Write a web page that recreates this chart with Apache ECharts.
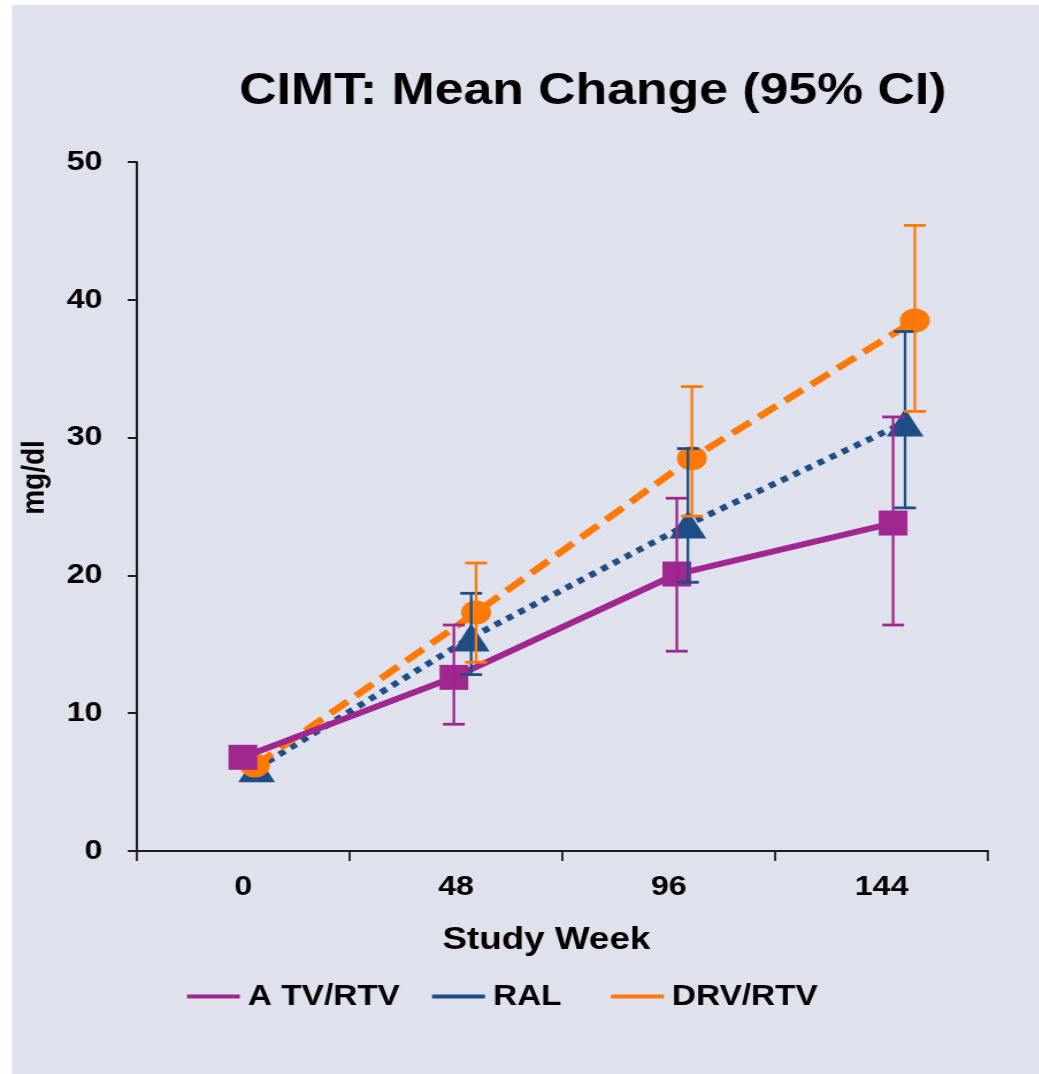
<!DOCTYPE html>
<html>
<head>
<meta charset="utf-8">
<title>CIMT: Mean Change (95% CI)</title>
<script src="https://cdn.jsdelivr.net/npm/echarts@6/dist/echarts.min.js"></script>
<style>
  html, body { margin: 0; padding: 0; background: #ffffff; overflow: hidden; }
  /* the chart is laid out on a narrower canvas and widened horizontally */
  #chart { width: 904px; height: 1074px; transform: scaleX(1.15); transform-origin: 0 0; }
</style>
</head>
<body>
<div id="chart"></div>
<script>
// ---- data ----
const weeks = [0, 48, 96, 144];
const weekLabels = ['0', '48', '96', '144'];
const seriesNames = ['A TV/RTV', 'RAL', 'DRV/RTV'];

const atvMean = [6.8, 12.6, 20.1, 23.8];
const atvLow  = [null, 9.2, 14.5, 16.4];
const atvHigh = [null, 16.4, 25.6, 31.5];

const ralMean = [6.0, 15.5, 23.7, 31.1];
const ralLow  = [null, 12.8, 19.5, 24.9];
const ralHigh = [null, 18.7, 29.2, 37.7];

const drvMean = [6.2, 17.3, 28.5, 38.5];
const drvLow  = [null, 13.7, 24.3, 31.9];
const drvHigh = [null, 20.9, 33.7, 45.4];

const yTicks = { min: 0, max: 50, step: 10 };

// ---- layout / style ----
// small horizontal dodge (in weeks) so overlapping points stay readable
const dodge = {
  'A TV/RTV': [-0.1, -0.5, 1.8, 2.6],
  'RAL':      [3.0, 3.4, 4.3, 5.3],
  'DRV/RTV':  [2.6, 4.5, 5.2, 7.5]
};
const colors = { 'A TV/RTV': '#a0278f', 'RAL': '#1f4e86', 'DRV/RTV': '#ff7906' };
const FONT = '"Liberation Sans", Arial, Helvetica, sans-serif';

function points(name, mean) {
  return weeks.map((w, i) => [w + dodge[name][i], mean[i]]);
}
function bars(name, low, high) {
  const out = [];
  weeks.forEach((w, i) => {
    if (low[i] != null && high[i] != null) out.push([w + dodge[name][i], low[i], high[i]]);
  });
  return out;
}
function errorBarRenderer(color) {
  return function (params, api) {
    const x = api.value(0);
    const lo = api.coord([x, api.value(1)]);
    const hi = api.coord([x, api.value(2)]);
    const half = 9.5;
    const stem = { stroke: color, lineWidth: 2.3 };
    const cap = { stroke: color, lineWidth: 2.8 };
    return {
      type: 'group',
      children: [
        { type: 'line', shape: { x1: lo[0], y1: lo[1], x2: hi[0], y2: hi[1] }, style: stem },
        { type: 'line', shape: { x1: lo[0] - half, y1: lo[1], x2: lo[0] + half, y2: lo[1] }, style: cap },
        { type: 'line', shape: { x1: hi[0] - half, y1: hi[1], x2: hi[0] + half, y2: hi[1] }, style: cap }
      ]
    };
  };
}

const chart = echarts.init(document.getElementById('chart'), null, { renderer: 'canvas' });

const lineSeries = [
  { name: 'A TV/RTV', mean: atvMean, symbol: 'rect', size: 25, line: { width: 6, type: 'solid' }, z: 4 },
  { name: 'RAL', mean: ralMean, symbol: 'triangle', size: [32, 28], line: { width: 6, type: [6, 6] }, z: 2 },
  { name: 'DRV/RTV', mean: drvMean, symbol: 'circle', size: [26, 24], line: { width: 6.5, type: [19, 9] }, z: 3 }
].map(s => ({
  type: 'line',
  name: s.name,
  xAxisIndex: 1,
  yAxisIndex: 0,
  data: points(s.name, s.mean),
  symbol: s.symbol,
  symbolSize: s.size,
  showSymbol: true,
  z: s.z,
  itemStyle: { color: colors[s.name], opacity: 1 },
  lineStyle: { color: colors[s.name], width: s.line.width, type: s.line.type, cap: 'butt' },
  emphasis: { disabled: true }
}));

const barSeries = [
  ['A TV/RTV', atvLow, atvHigh],
  ['RAL', ralLow, ralHigh],
  ['DRV/RTV', drvLow, drvHigh]
].map(([name, lo, hi]) => ({
  type: 'custom',
  name: name + ' CI',
  xAxisIndex: 1,
  yAxisIndex: 0,
  z: 6,
  data: bars(name, lo, hi),
  encode: { x: 0, y: [1, 2] },
  renderItem: errorBarRenderer(colors[name])
}));

const legendText = { fontFamily: FONT, fontSize: 29, fontWeight: 'bold', color: '#000', padding: [0, 0, 0, 2] };
const legendLefts = [162.6, 375.7, 531.3];

chart.setOption({
  animation: false,
  backgroundColor: '#ffffff',
  graphic: [{
    type: 'rect', left: 10.4, top: 5, z: -10,
    shape: { width: 904, height: 1074 },
    style: { fill: '#dfe1ec' }
  }],
  title: {
    text: 'CIMT: Mean Change (95% CI)',
    left: 208, top: 69.5, padding: 0,
    textStyle: { fontFamily: FONT, fontSize: 45, fontWeight: 'bold', color: '#000' }
  },
  legend: seriesNames.map((n, i) => ({
    data: [n],
    left: legendLefts[i],
    top: 982,
    padding: 0,
    icon: 'rect',
    itemWidth: 46,
    itemHeight: 4,
    selectedMode: false,
    textStyle: legendText
  })),
  grid: { left: 119.1, right: 44.9, top: 162, bottom: 223, containLabel: false },
  xAxis: [
    {
      type: 'category',
      data: weekLabels,
      boundaryGap: true,
      name: 'Study Week',
      nameLocation: 'middle',
      nameGap: 73,
      nameTextStyle: { fontFamily: FONT, fontSize: 32, fontWeight: 'bold', color: '#000', padding: [0, 28, 0, 0] },
      axisLine: { onZero: false, lineStyle: { color: '#1c1c1c', width: 2 } },
      axisTick: { show: true, length: 10, alignWithLabel: false, lineStyle: { color: '#1c1c1c', width: 1.8 } },
      axisLabel: { margin: 22, fontFamily: FONT, fontSize: 28, fontWeight: 'bold', color: '#000' },
      splitLine: { show: false }
    },
    {
      type: 'value',
      show: false,
      min: -24,
      max: 168
    }
  ],
  yAxis: [{
    type: 'value',
    min: yTicks.min,
    max: yTicks.max,
    interval: yTicks.step,
    name: 'mg/dl',
    nameLocation: 'middle',
    nameGap: 75,
    nameRotate: 90,
    nameTextStyle: { fontFamily: FONT, fontSize: 28, fontWeight: 'bold', color: '#000', padding: [0, 0, 0, 58] },
    axisLine: { show: true, onZero: false, lineStyle: { color: '#1c1c1c', width: 2 } },
    axisTick: { show: true, length: 8, lineStyle: { color: '#1c1c1c', width: 2 } },
    axisLabel: { margin: 30, fontFamily: FONT, fontSize: 28, fontWeight: 'bold', color: '#000' },
    splitLine: { show: false }
  }],
  series: lineSeries.concat(barSeries)
});
</script>
</body>
</html>
